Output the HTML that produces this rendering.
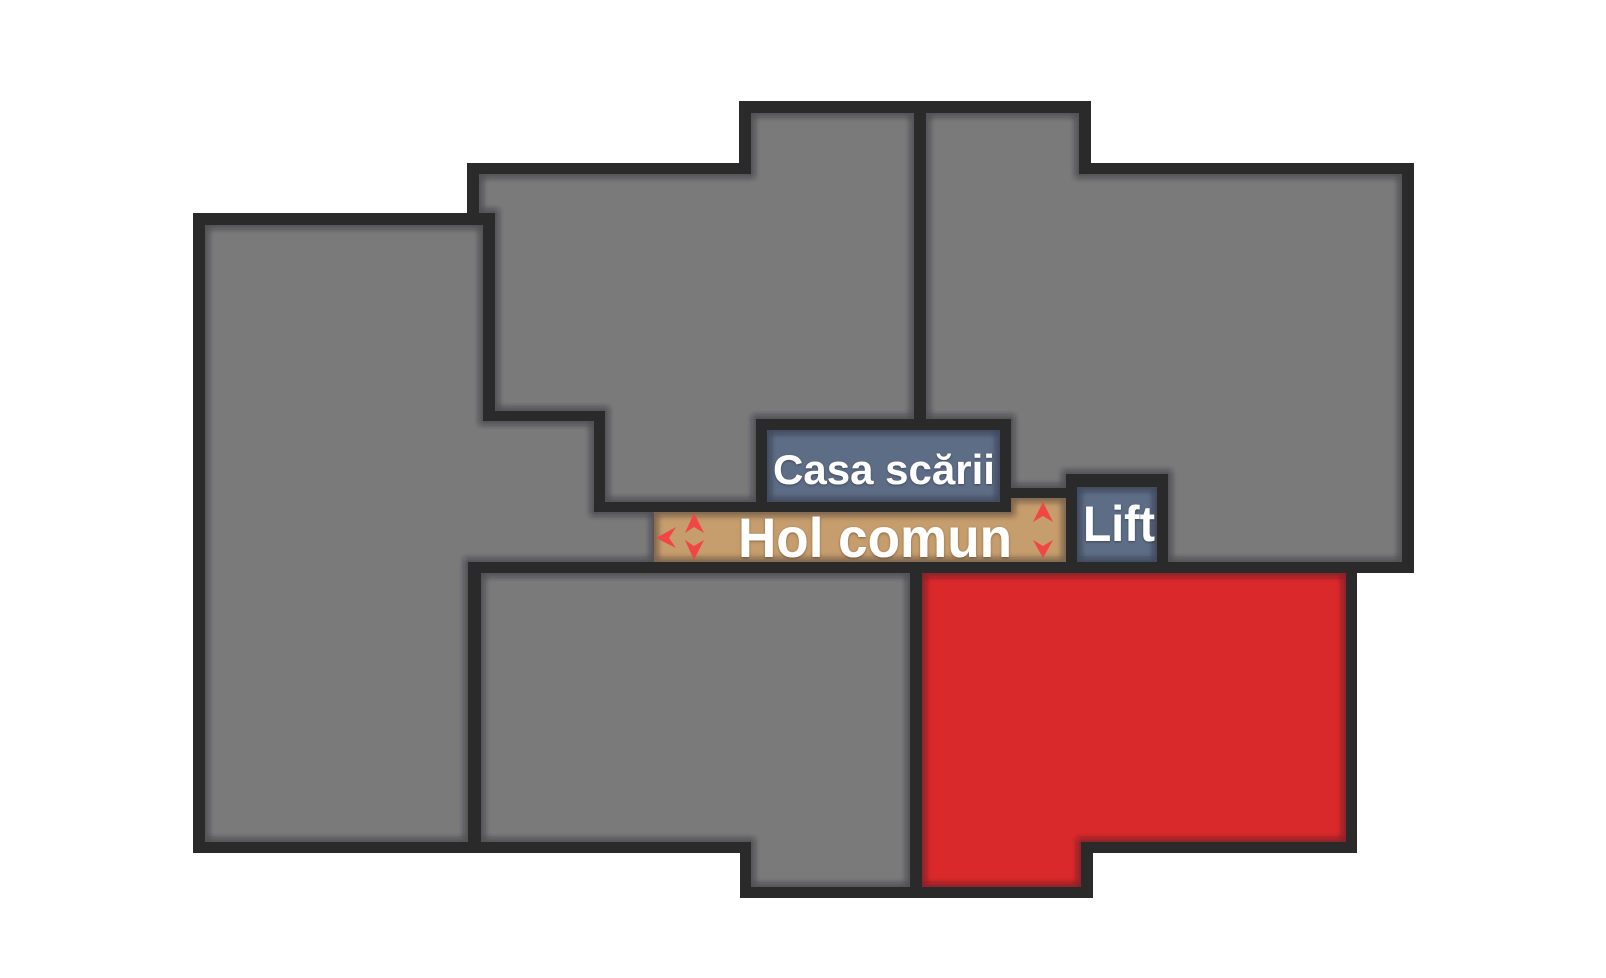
<!DOCTYPE html>
<html><head><meta charset="utf-8"><style>
html,body{margin:0;padding:0;background:#fff;}
svg{display:block;}
text{font-family:"Liberation Sans","DejaVu Sans",sans-serif;font-weight:bold;fill:#fff;}
</style></head><body>
<svg width="1606" height="978" viewBox="0 0 1606 978" xmlns="http://www.w3.org/2000/svg">
<defs>
<polygon id="p1" points="205,225 483,225 483,421 594,421 594,512 654,512 654,562 468,562 468,842 205,842"/>
<polygon id="p2" points="479,174 751,174 751,113 914,113 914,419 756,419 756,502 605,502 605,411 495,411 495,213 479,213"/>
<polygon id="p3" points="926,113 1079,113 1079,174 1402,174 1402,562 1168,562 1168,474 1066,474 1066,488 1011,488 1011,419 926,419"/>
<rect id="p4" x="767" y="430" width="233" height="72"/>
<polygon id="p5" points="654,512 1011,512 1011,498 1066,498 1066,562 654,562"/>
<rect id="p6" x="1077" y="487" width="80" height="75"/>
<polygon id="p7" points="481,573 910,573 910,887 751,887 751,842 481,842"/>
<polygon id="p8" points="922,573 1346,573 1346,842 1081,842 1081,887 922,887"/>
<clipPath id="c1"><use href="#p1"/></clipPath>
<clipPath id="c2"><use href="#p2"/></clipPath>
<clipPath id="c3"><use href="#p3"/></clipPath>
<clipPath id="c4"><use href="#p4"/></clipPath>
<clipPath id="c5"><use href="#p5"/></clipPath>
<clipPath id="c6"><use href="#p6"/></clipPath>
<clipPath id="c7"><use href="#p7"/></clipPath>
<clipPath id="c8"><use href="#p8"/></clipPath>
<filter id="bl" x="-5%" y="-5%" width="110%" height="110%"><feGaussianBlur stdDeviation="3"/></filter>
<filter id="ts"><feDropShadow dx="0" dy="1" stdDeviation="1.2" flood-color="#000" flood-opacity="0.35"/></filter>
</defs>
<g fill="#2a2a2a">
<rect x="193" y="213" width="302" height="640"/>
<rect x="467" y="163" width="947" height="410"/>
<rect x="739" y="101" width="352" height="73"/>
<rect x="468" y="562" width="889" height="291"/>
<rect x="740" y="842" width="353" height="56"/>
</g>
<use href="#p1" fill="#7a7a7a"/>
<use href="#p2" fill="#7a7a7a"/>
<use href="#p3" fill="#7a7a7a"/>
<use href="#p4" fill="#5e6d86"/>
<use href="#p5" fill="#c69d6c"/>
<use href="#p6" fill="#5e6d86"/>
<use href="#p7" fill="#7a7a7a"/>
<use href="#p8" fill="#da292b"/>
<g fill="none" stroke="rgba(20,20,30,0.45)" stroke-width="8">
<g clip-path="url(#c1)"><use href="#p1" filter="url(#bl)"/></g>
<g clip-path="url(#c2)"><use href="#p2" filter="url(#bl)"/></g>
<g clip-path="url(#c3)"><use href="#p3" filter="url(#bl)"/></g>
<g clip-path="url(#c4)"><use href="#p4" filter="url(#bl)"/></g>
<g clip-path="url(#c5)"><use href="#p5" filter="url(#bl)"/></g>
<g clip-path="url(#c6)"><use href="#p6" filter="url(#bl)"/></g>
<g clip-path="url(#c7)"><use href="#p7" filter="url(#bl)"/></g>
<g clip-path="url(#c8)"><use href="#p8" filter="url(#bl)"/></g>
</g>
<g fill="#f24545">
<polygon points="656,538 676,527 669,538 676,548"/>
<polygon points="694,513 704,533 694,527 685,533"/>
<polygon points="694,560 704,540 694,546 685,540"/>
<polygon points="1043,502 1053,522 1043,516 1033,522"/>
<polygon points="1043,558 1053,540 1043,546 1033,540"/>
</g>
<g filter="url(#ts)">
<text x="884" y="484" font-size="42" text-anchor="middle" textLength="222" lengthAdjust="spacingAndGlyphs">Casa scării</text>
<text x="875" y="557" font-size="56" text-anchor="middle" textLength="274" lengthAdjust="spacingAndGlyphs">Hol comun</text>
<text x="1119" y="541" font-size="50" text-anchor="middle" textLength="72" lengthAdjust="spacingAndGlyphs">Lift</text>
</g>
</svg>
</body></html>
